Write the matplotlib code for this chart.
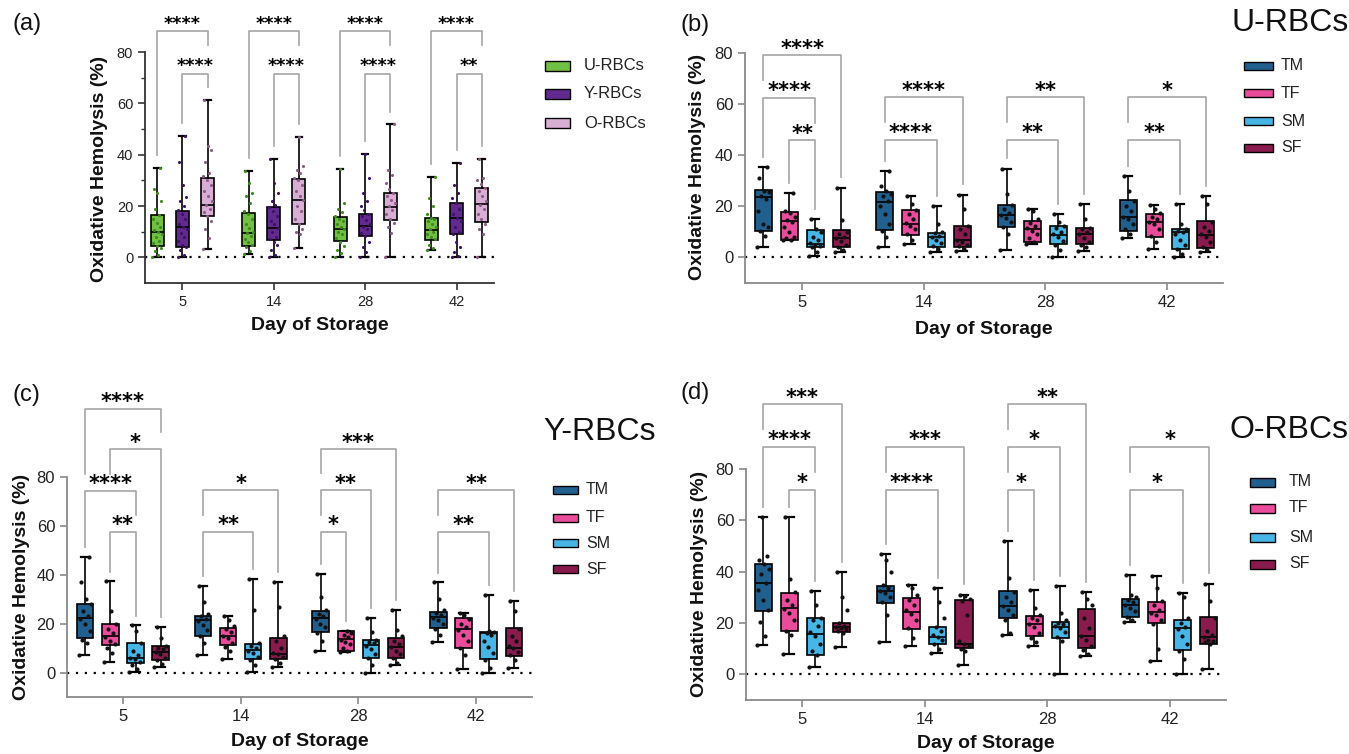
import numpy as np
import matplotlib.pyplot as plt
from matplotlib.patches import Rectangle

plt.rcParams['font.family'] = ['Liberation Sans', 'DejaVu Sans']

days = ["5", "14", "28", "42"]
age_groups = ["U-RBCs", "Y-RBCs", "O-RBCs"]
sex_groups = ["TM", "TF", "SM", "SF"]

# box summaries per day: [min, q1, median, q3, max]
a_stats_U = [[0, 4.5, 10, 16.5, 35], [1.4, 4.3, 9.6, 17.3, 33.7], [0, 6.2, 11.2, 15.6, 34.3], [2.7, 6.9, 10.8, 15.5, 31.2]]
a_stats_Y = [[0, 4, 11.7, 18.2, 47.2], [0, 6.9, 11.4, 19.6, 38.4], [0, 8.3, 12.2, 17, 40.4], [0, 9.2, 15.5, 21.3, 36.8]]
a_stats_O = [[3.1, 16.1, 20.4, 31, 61.2], [3.5, 13.1, 22.5, 30.4, 46.8], [0, 14.4, 19.6, 25.2, 51.8], [0, 13.8, 20.7, 27.2, 38.4]]

b_stats_TM = [[4, 10.2, 23.5, 26.2, 35.4], [4, 10.6, 21.7, 25.6, 33.9], [3, 11.9, 16.5, 20.4, 34.8], [7.7, 10.3, 15.8, 22.4, 31.8]]
b_stats_TF = [[6.9, 6.9, 14.2, 17.8, 25.3], [5.1, 8.6, 12.9, 18.4, 23.9], [5.4, 6, 11.2, 14.2, 19.1], [3.4, 8, 13.9, 16.9, 20.4]]
b_stats_SM = [[0.4, 4, 5.4, 10.6, 15.1], [2.1, 4, 8, 9.7, 20], [0, 5.1, 8.6, 12.4, 17.1], [0, 3.4, 9.9, 11.2, 21]]
b_stats_SF = [[2, 4, 7.7, 10.6, 27.3], [2.5, 4, 6.7, 12.5, 24.6], [2.7, 5.1, 9, 11.6, 21], [2.1, 3.8, 8.6, 14.2, 23.9]]

c_stats_TM = [[7.1, 14.2, 22.4, 28.2, 47.2], [7.1, 14.9, 21.4, 23.1, 35.3], [8.8, 16.5, 22.4, 25.1, 40.4], [12.6, 18.3, 22.6, 24.8, 36.9]]
c_stats_TF = [[4.3, 11.1, 14.9, 19.9, 37.3], [5.7, 11.1, 14.9, 18.3, 23.1], [8.4, 8.8, 13.8, 16.9, 16.9], [1.4, 10.2, 17.9, 22.4, 24.4]]
c_stats_SM = [[0.4, 4.1, 6, 12.2, 19.3], [0.3, 5.4, 9.1, 11.8, 38.4], [0, 6.1, 11.1, 13.3, 22.4], [0, 5.7, 16, 16.7, 31.9]]
c_stats_SF = [[2.4, 5, 8.4, 10.8, 18.7], [2.4, 5.4, 7.5, 14.1, 37], [3, 6.1, 10.6, 14.1, 25.5], [2, 6.8, 10.2, 18.3, 29.2]]

d_stats_TM = [[11.4, 24.6, 35.6, 43.1, 61.3], [12.7, 27.7, 32.4, 34.6, 46.8], [15.3, 21.8, 26.5, 32.3, 51.9], [20.3, 22.2, 27.2, 29.4, 38.6]]
d_stats_TF = [[7.8, 16.7, 25.9, 31.6, 61.3], [11.1, 17.6, 24.2, 29.8, 35], [11.1, 14.8, 19.6, 22.6, 32.7], [5.2, 20, 24.2, 28.1, 38.2]]
d_stats_SM = [[3, 7.6, 15.9, 22, 32.4], [8.5, 11.8, 14.6, 18.6, 33.7], [0, 14.1, 18.6, 20.3, 34.4], [0, 9.4, 18, 21.3, 31.6]]
d_stats_SF = [[10.7, 16.3, 18.3, 19.9, 39.9], [3.5, 10.1, 12, 29, 31.1], [7.2, 10.1, 14.8, 25.5, 32], [2, 11.8, 14.4, 22.5, 35.3]]

# individual samples per day
a_pts_U = [[0, 1, 2.5, 3.5, 4.5, 5.5, 6.5, 8, 9, 10, 10.5, 12, 13.5, 15, 16.5, 19, 22, 25, 26.5, 35],
           [1.4, 2.5, 4, 5, 6, 7, 8.5, 9.5, 10, 11.5, 13, 15, 17, 18, 21, 24, 25, 29, 33.7],
           [0, 1.5, 3, 4.5, 6, 7.5, 9, 10, 11, 12, 13, 14, 15, 16, 17.5, 19, 21, 34.3],
           [2.7, 3.5, 5, 7, 8, 9, 10, 11, 12, 13, 14, 15, 15.5, 17, 20, 23, 31.2]]
a_pts_Y = [[0, 1, 3, 4, 5, 6.5, 8, 9.5, 11, 12, 13, 15, 17, 18.5, 20, 22, 23.5, 28, 37, 47.2],
           [0, 1, 3, 5, 6, 7, 8, 10, 11.5, 13, 14, 16, 18, 19.5, 20.5, 22, 25, 29, 38.4],
           [0, 2, 4, 6, 8.5, 9.5, 11, 12, 13, 14.5, 16, 17, 18.5, 20, 22, 25, 31, 40.4],
           [0, 0.5, 2, 4, 6, 9, 10, 12, 14, 15.5, 17, 19, 21, 23, 25, 28, 36.8]]
a_pts_O = [[3.1, 7.5, 11, 14, 16, 17.5, 19, 20.5, 22, 24, 26, 28, 30, 31.5, 33, 37, 42, 43.5, 61.2],
           [3.5, 9, 10, 11, 13, 15, 18, 20, 22.5, 24, 26, 28, 30, 31, 33, 34, 35.5, 46.8],
           [0, 9.5, 12, 13.5, 15, 17, 18.5, 20, 21, 22.5, 24, 25, 26.5, 29, 32, 34, 51.8],
           [0, 9, 11, 13, 15, 17, 19, 20.5, 22, 24, 26, 27, 28.5, 30, 31, 38.4]]

b_pts_TM = [[4, 8.5, 10.5, 12, 13, 18, 23, 24, 25.5, 26, 31, 35.4], [4, 8, 10.5, 13, 17, 20, 22, 24, 25, 26, 28, 33.9],
            [3, 9, 12, 14, 15.5, 16.5, 17.5, 19, 20.5, 25, 34.8], [7.7, 9, 11, 13, 15, 16, 18, 20, 22, 26, 31.8]]
b_pts_TF = [[6.9, 7, 7.5, 8, 10, 12, 14, 14.5, 16, 17.5, 18, 25.3], [5.1, 7, 9, 11, 12.5, 13.5, 15, 17, 18.5, 21, 23.9],
            [5.4, 6, 7.5, 9, 10.5, 11.5, 12.5, 13.5, 15, 18, 19.1], [3.4, 6, 8.5, 11, 13, 14, 15, 16, 17.5, 19, 20.4]]
b_pts_SM = [[0.4, 2, 4, 4.5, 5, 5.5, 7, 8, 10, 11, 15.1], [2.1, 3.5, 4.5, 5.5, 7, 8, 8.5, 9.5, 10, 13, 20],
            [0, 3, 5, 6.5, 8, 9, 10, 11.5, 12.5, 14, 17.1], [0, 1.5, 3.5, 5, 7, 9, 10, 10.5, 11, 13, 21]]
b_pts_SF = [[2, 3, 4, 5, 6.5, 7.5, 8, 9, 10, 14.5, 27.3], [2.5, 3.5, 4.5, 5, 6, 7, 9, 11, 12.5, 19, 24.6],
            [2.7, 4, 5, 6, 7.5, 9, 10, 11, 11.5, 15, 21], [2.1, 3, 4, 6, 8, 9, 10.5, 12, 14, 21, 23.9]]

c_pts_TM = [[7.1, 12, 13.5, 17, 20, 22, 23, 25, 28, 30, 37, 47.2], [7.1, 12, 15, 17.5, 19.5, 21, 22, 23, 24, 29, 35.3],
            [8.8, 13, 16, 18.5, 20, 22, 23, 24, 25.5, 31, 40.4], [12.6, 15.5, 18, 20, 21.5, 22.5, 23.5, 24.5, 25.5, 30, 36.9]]
c_pts_TF = [[4.3, 8, 10, 11.5, 13, 14.5, 16, 18, 20, 25, 37.3], [5.7, 9, 10.5, 12, 14, 15, 16.5, 18, 19, 21.5, 23.1],
            [8.4, 9, 10, 11.5, 12.5, 13.5, 14.5, 15.5, 16, 16.9], [1.4, 7, 10, 13, 15.5, 17.5, 18.5, 20, 22, 23.5, 24.4]]
c_pts_SM = [[0.4, 1.5, 3, 4.5, 5.5, 6, 7, 9, 12, 17, 19.3], [0.3, 3, 5, 6.5, 8, 9, 10, 11, 12, 25.5, 38.4],
            [0, 3, 6, 7.5, 9.5, 11, 12, 12.5, 13.5, 16.5, 22.4], [0, 2, 5, 8, 10.5, 13, 15.5, 16, 16.5, 17, 31.9]]
c_pts_SF = [[2.4, 3.5, 5, 6, 7.5, 8.5, 9.5, 10, 11, 14, 18.7], [2.4, 4, 5.5, 6.5, 7.5, 8, 10, 13, 15, 27, 37],
            [3, 4, 6, 7.5, 9, 10.5, 11.5, 13, 15, 17.5, 25.5], [2, 5, 7, 8.5, 10, 11, 13, 15, 18, 25, 29.2]]

d_pts_TM = [[11.4, 15, 20.5, 25, 29, 33, 35.5, 39, 41, 43, 44.5, 46, 61.3], [12.7, 23, 28, 30, 31.5, 32.5, 33.5, 35, 40, 44.5, 46.8],
            [15.3, 16, 21, 23, 25, 26.5, 28, 30, 32, 37.5, 51.9], [20.3, 21, 22.5, 24.5, 26, 27, 28, 29, 30, 31, 38.6]]
d_pts_TF = [[7.8, 15.5, 17, 21, 24, 25.5, 27, 29, 32, 37, 61.3], [11.1, 14, 18, 21, 23.5, 25, 27, 29, 31, 33.5, 35],
            [11.1, 12.5, 14, 16, 18.5, 19.5, 21, 22, 23, 26, 32.7], [5.2, 10, 19.5, 21, 23, 24, 25, 27, 28.5, 33.5, 38.2]]
d_pts_SM = [[3, 7.5, 9, 12, 15, 16.5, 19, 21, 22, 27, 32.4], [8.5, 10, 12, 13.5, 14.5, 15.5, 17, 18.5, 22, 28, 33.7],
            [0, 13, 14.5, 16.5, 18, 19, 19.5, 20, 21, 24, 34.4], [0, 6, 9, 12, 15, 17.5, 18.5, 20, 22, 30, 31.6]]
d_pts_SF = [[10.7, 16, 17, 17.5, 18, 18.5, 19, 20, 25, 30, 39.9], [3.5, 9, 10, 11, 12, 13, 23, 28.5, 29.5, 30.5, 31.1],
            [7.2, 8, 9.5, 11, 13.5, 15, 18, 22, 27, 29.5, 32], [2, 12, 12.5, 13, 13.5, 14.5, 15.5, 17, 22, 28.5, 35.3]]

# significance brackets: (day index, group a, group b, height, label)
a_sig = [(0, 0, 2, 88.2, "****"), (0, 1, 2, 71.6, "****"), (1, 0, 2, 88.2, "****"), (1, 1, 2, 71.6, "****"),
         (2, 0, 2, 88.2, "****"), (2, 1, 2, 71.6, "****"), (3, 0, 2, 88.2, "****"), (3, 1, 2, 71.6, "**")]
b_sig = [(0, 0, 3, 79.1, "****"), (0, 0, 2, 62.4, "****"), (0, 1, 2, 45.8, "**"),
         (1, 0, 3, 62.6, "****"), (1, 0, 2, 45.9, "****"), (2, 0, 3, 62.6, "**"), (2, 0, 2, 45.9, "**"),
         (3, 0, 3, 62.6, "*"), (3, 0, 2, 45.9, "**")]
c_sig = [(0, 0, 3, 107.8, "****"), (0, 1, 3, 91.3, "*"), (0, 0, 2, 74.2, "****"), (0, 1, 2, 57.6, "**"),
         (1, 0, 3, 74.6, "*"), (1, 0, 2, 57.6, "**"),
         (2, 0, 3, 91.3, "***"), (2, 0, 2, 74.6, "**"), (2, 0, 1, 57.6, "*"),
         (3, 0, 3, 74.6, "**"), (3, 0, 2, 57.6, "**")]
d_sig = [(0, 0, 3, 105.2, "***"), (0, 0, 2, 88.5, "****"), (0, 1, 2, 71.9, "*"),
         (1, 0, 3, 88.5, "***"), (1, 0, 2, 71.9, "****"),
         (2, 0, 3, 105.2, "**"), (2, 0, 2, 88.5, "*"), (2, 0, 1, 71.9, "*"),
         (3, 0, 3, 88.5, "*"), (3, 0, 2, 71.9, "*")]

age_colors = ["#72c043", "#622a8f", "#d9aed4"]
age_dot_colors = ["#3f8a1f", "#3a1462", "#8c5b88"]
sex_colors = ["#215f8e", "#ea4c9c", "#47b5e6", "#891b4f"]

FW, FH = 1349, 754
fig = plt.figure(figsize=(FW / 100, FH / 100), dpi=100)


def px_axes(l, r, t, b):
    return fig.add_axes([l / FW, 1 - b / FH, (r - l) / FW, (b - t) / FH])


def draw_boxes(ax, stats, pts, colors, dot_colors, offsets, width, dot_size):
    for g in range(len(stats)):
        for d in range(len(days)):
            lo, q1, med, q3, hi = stats[g][d]
            pos = d + offsets[g]
            ax.bxp([dict(whislo=lo, q1=q1, med=med, q3=q3, whishi=hi, fliers=[])],
                   positions=[pos], widths=width, capwidths=width * 0.5,
                   patch_artist=True, showfliers=False, manage_ticks=False,
                   boxprops=dict(facecolor=colors[g], edgecolor="black", lw=1.2),
                   medianprops=dict(color="black", lw=1.2),
                   whiskerprops=dict(color="black", lw=1.2),
                   capprops=dict(color="black", lw=1.6))
            vals = np.array(pts[g][d])
            jit = ((np.arange(len(vals)) * 0.618) % 1 - 0.5) * width * 0.75
            ax.scatter(pos + jit, vals, s=dot_size, color=dot_colors[g], lw=0, zorder=4)


def draw_sig(ax, sig, stats, offsets, wgap, sgap, fs, dy):
    for d, g1, g2, lev, lab in sig:
        ends = []
        for g in (g1, g2):
            e = stats[g][d][4] + wgap
            for d2, h1, h2, lev2, _ in sig:
                if d2 == d and lev2 < lev and h1 <= g <= h2:
                    e = max(e, lev2 + sgap)
            ends.append(e)
        x1, x2 = d + offsets[g1], d + offsets[g2]
        ax.plot([x1, x1, x2, x2], [ends[0], lev, lev, ends[1]], color="#a5a5a5", lw=1.2,
                clip_on=False, zorder=1)
        ax.annotate(lab, ((x1 + x2) / 2, lev), xytext=(0, dy), textcoords="offset points",
                    ha="center", va="baseline", fontsize=fs, fontweight="bold",
                    family="DejaVu Sans", annotation_clip=False)


def style_axes(ax, xlim, tick_fs, spine_color, minor):
    ax.set_xlim(*xlim)
    ax.set_ylim(-10, 80)
    ax.set_xticks(range(len(days)))
    ax.set_xticklabels(days)
    ax.set_yticks([0, 20, 40, 60, 80])
    if minor:
        ax.set_yticks([10, 30, 50, 70], minor=True)
    ax.axhline(0, color="black", ls=(0, (1, 3)), lw=1.6, zorder=1)
    for s in ["top", "right"]:
        ax.spines[s].set_visible(False)
    for s in ["left", "bottom"]:
        ax.spines[s].set_color(spine_color)
        ax.spines[s].set_linewidth(1.3)
    ax.tick_params(which="major", length=5, width=1.2, color=spine_color, labelsize=tick_fs,
                   labelcolor="#222222")
    ax.tick_params(which="minor", length=3, width=1.0, color=spine_color)
    ax.set_facecolor("none")


def legend(x0, x1, ys, h, tx, labels, colors, fs):
    for y, lab, c in zip(ys, labels, colors):
        fig.add_artist(Rectangle((x0 / FW, 1 - (y + h / 2) / FH), (x1 - x0) / FW, h / FH,
                                 transform=fig.transFigure, facecolor=c, edgecolor="black", lw=1.0))
        fig.text(tx / FW, 1 - y / FH, lab, ha="left", va="center", fontsize=fs, color="#222222")


def label_text(x, y, s, **kw):
    fig.text(x / FW, 1 - y / FH, s, **kw)


age_off = [-0.275, 0, 0.275]
sex_off = [-0.32, -0.107, 0.107, 0.32]

# (a)
ax_a = px_axes(145, 494, 52, 283)
a_stats = [a_stats_U, a_stats_Y, a_stats_O]
draw_boxes(ax_a, a_stats, [a_pts_U, a_pts_Y, a_pts_O], age_colors, age_dot_colors, age_off, 0.143, 5)
draw_sig(ax_a, a_sig, a_stats, age_off, 5, 11, 12.5, 1.7)
style_axes(ax_a, (-0.41, 3.41), 10.5, "#333333", True)

# (b)
ax_b = px_axes(745, 1223, 53, 283)
b_stats = [b_stats_TM, b_stats_TF, b_stats_SM, b_stats_SF]
draw_boxes(ax_b, b_stats, [b_pts_TM, b_pts_TF, b_pts_SM, b_pts_SF], sex_colors, ["#111111"] * 4, sex_off, 0.14, 9)
draw_sig(ax_b, b_sig, b_stats, sex_off, 4, 7, 15, 0.5)
style_axes(ax_b, (-0.47, 3.46), 12, "#8a8a8a", False)

# (c)
ax_c = px_axes(67, 532, 477, 697)
c_stats = [c_stats_TM, c_stats_TF, c_stats_SM, c_stats_SF]
draw_boxes(ax_c, c_stats, [c_pts_TM, c_pts_TF, c_pts_SM, c_pts_SF], sex_colors, ["#111111"] * 4, sex_off, 0.14, 9)
draw_sig(ax_c, c_sig, c_stats, sex_off, 4, 7, 15, 0.5)
style_axes(ax_c, (-0.475, 3.475), 12, "#8a8a8a", False)

# (d)
ax_d = px_axes(746, 1226, 469, 700)
d_stats = [d_stats_TM, d_stats_TF, d_stats_SM, d_stats_SF]
draw_boxes(ax_d, d_stats, [d_pts_TM, d_pts_TF, d_pts_SM, d_pts_SF], sex_colors, ["#111111"] * 4, sex_off, 0.14, 9)
draw_sig(ax_d, d_sig, d_stats, sex_off, 4, 7, 15, 0.5)
style_axes(ax_d, (-0.46, 3.46), 12, "#8a8a8a", False)

bold = dict(fontsize=14, fontweight="bold", color="#111111", ha="center", va="center")
for x, y in [(320, 326), (984, 330), (300, 742), (986, 744)]:
    label_text(x, y, "Day of Storage", **bold)
for x, y in [(100, 169), (698, 167), (22, 587), (700, 584)]:
    label_text(x, y, "Oxidative Hemolysis (%)", rotation=90, **bold)

for x, y, s in [(13, 24, "(a)"), (680, 25, "(b)"), (13, 395, "(c)"), (680, 393, "(d)")]:
    label_text(x, y, s, fontsize=17, ha="left", va="center", color="#111111")
for x, y, s in [(1290, 23, "U-RBCs"), (600, 432, "Y-RBCs"), (1289, 430, "O-RBCs")]:
    label_text(x, y, s, fontsize=23, ha="center", va="center", color="#111111")

legend(545, 570, [66, 94, 123], 10, 584, age_groups, age_colors, 12)
legend(1244, 1273, [66, 93, 121, 148], 8, 1281, sex_groups, sex_colors, 11.5)
legend(553, 578, [490, 518, 543, 569], 8, 586, sex_groups, sex_colors, 11.5)
legend(1250, 1275, [482, 508, 537, 564], 9, 1289, sex_groups, sex_colors, 11.5)

fig.savefig("out.png", dpi=100, facecolor="white")
